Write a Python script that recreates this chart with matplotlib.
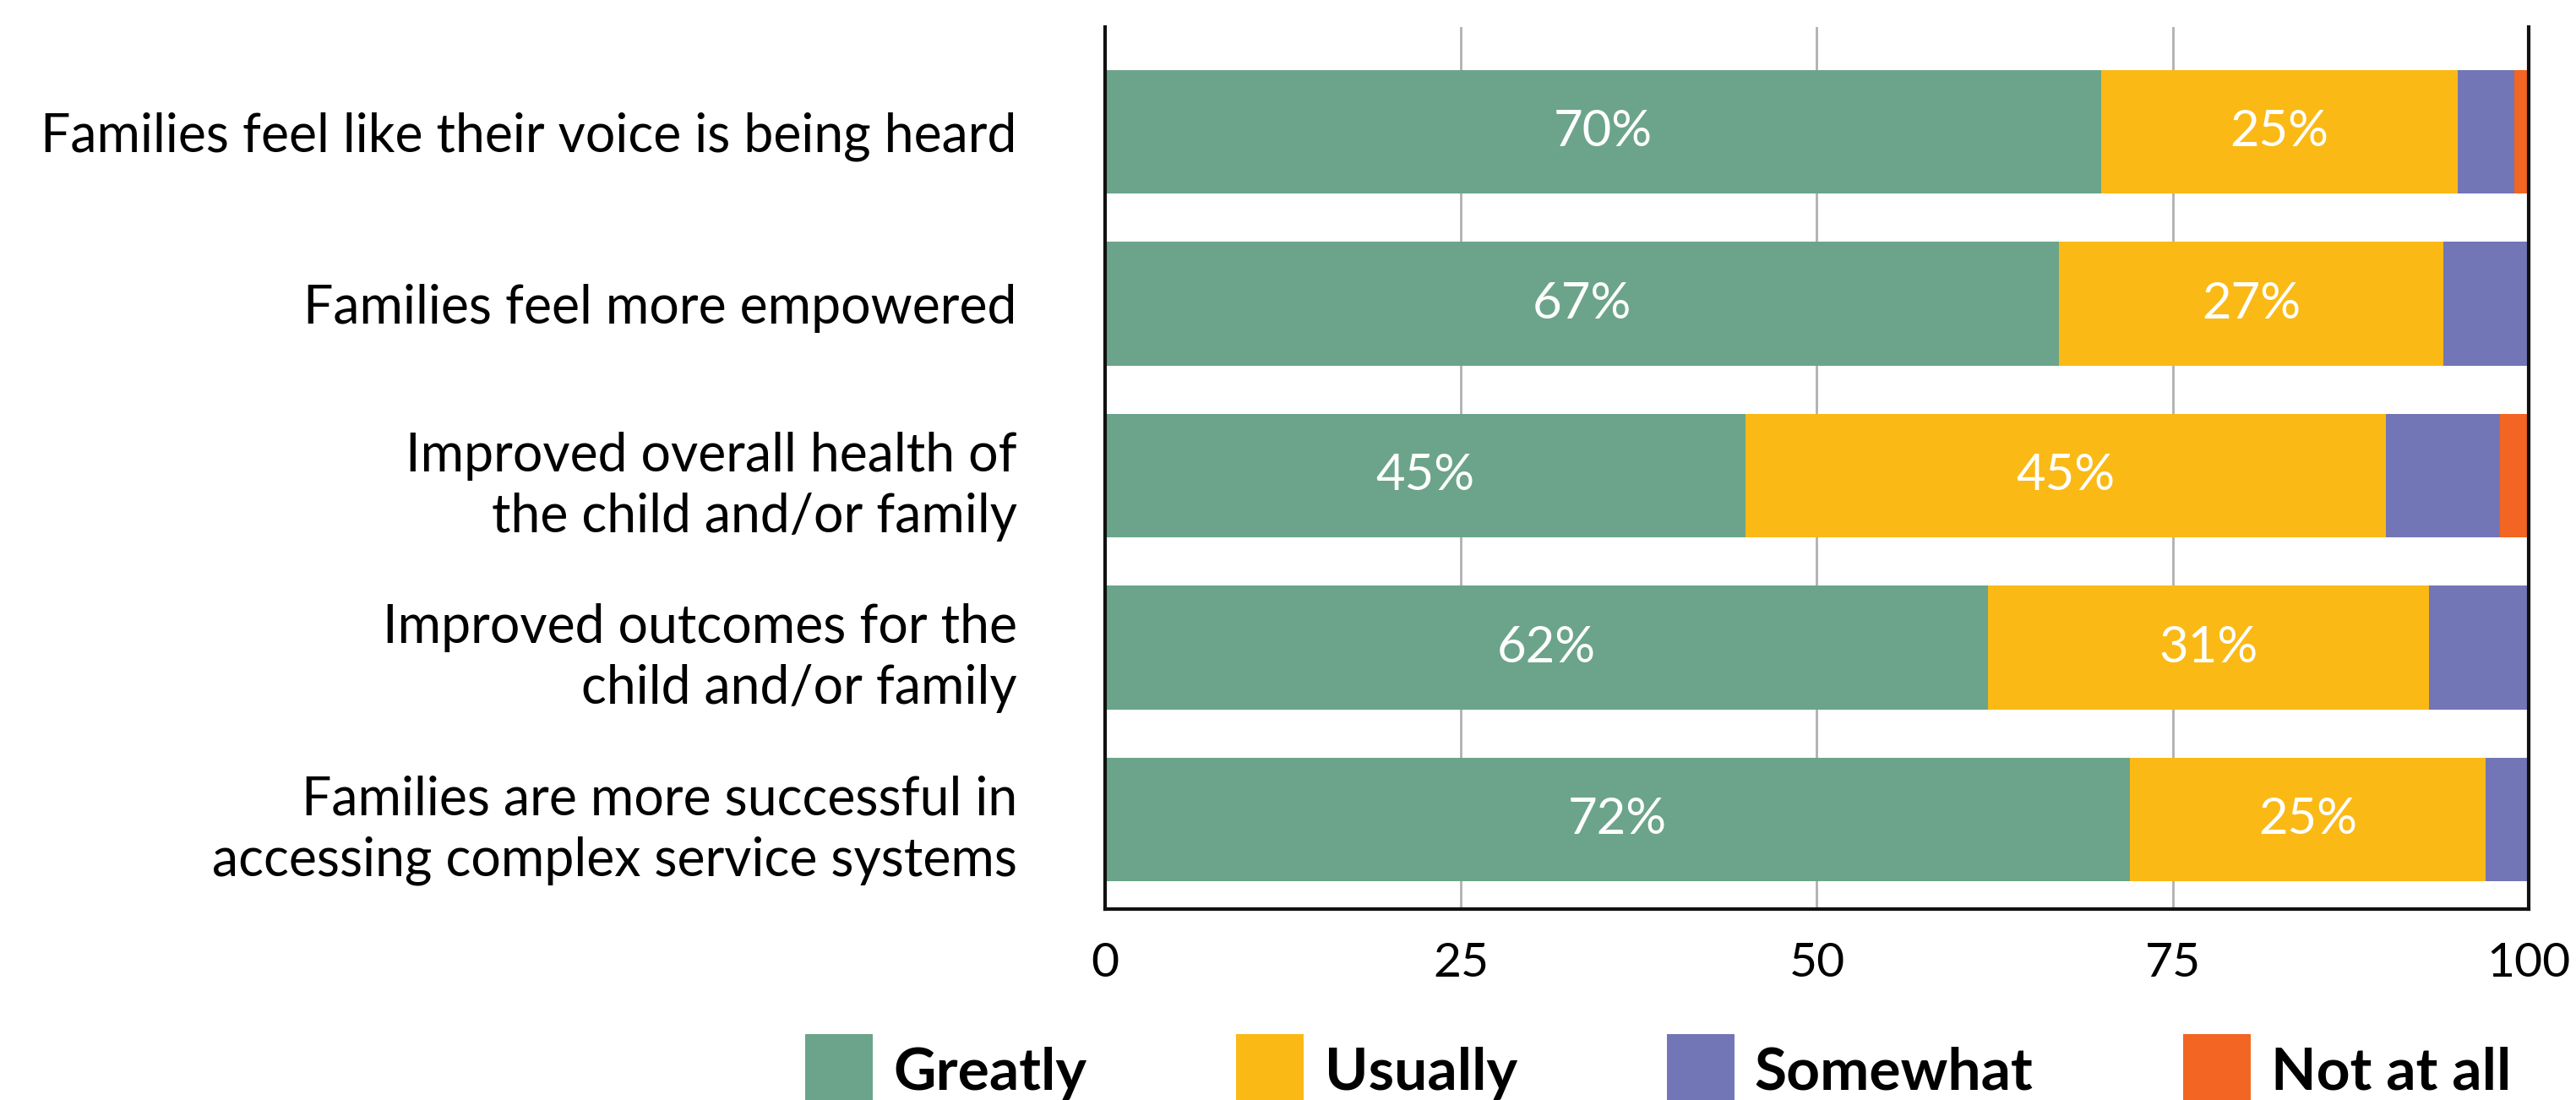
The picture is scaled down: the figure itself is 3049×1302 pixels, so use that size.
import numpy as np
import matplotlib.pyplot as plt
from matplotlib.patches import Patch

plt.rcParams['font.family'] = ['Lato', 'DejaVu Sans']

categories = [
    "Families feel like their voice is being heard",
    "Families feel more empowered",
    "Improved overall health of\nthe child and/or family",
    "Improved outcomes for the\nchild and/or family",
    "Families are more successful in\naccessing complex service systems",
]
greatly = [70, 67, 45, 62, 72]
usually = [25, 27, 45, 31, 25]
somewhat = [4, 6, 8, 7, 3]
not_at_all = [1, 0, 2, 0, 0]

series = ["Greatly", "Usually", "Somewhat", "Not at all"]
colors = ["#6ba48a", "#fab915", "#7276b6", "#f26522"]
labelled = [True, True, False, False]

fig = plt.figure(figsize=(30.49, 13.02), dpi=100)
ax = fig.add_axes([0.429, 0.1736, 0.9816 - 0.429, 0.9754 - 0.1736])

y = np.arange(len(categories))
left = np.zeros(len(categories))
for vals, col, name, lab in zip([greatly, usually, somewhat, not_at_all], colors, series, labelled):
    vals = np.array(vals, dtype=float)
    ax.barh(y, vals, left=left, height=0.72, color=col, label=name, zorder=2)
    if lab:
        for yi, l, v in zip(y, left, vals):
            ax.text(l + v / 2, yi, f"{int(v)}%", ha="center", va="center",
                    color="white", fontsize=43, zorder=3)
    left += vals

ax.set_xlim(0, 100)
ax.set_ylim(4.52, -0.61)
ax.set_xticks([0, 25, 50, 75, 100])
ax.set_yticks(y)
ax.set_yticklabels(categories, fontsize=45, linespacing=1.3)
ax.tick_params(axis="x", labelsize=41, length=0, pad=28)
ax.tick_params(axis="y", length=0, pad=75)
ax.grid(axis="x", color="#b0b0b0", linewidth=2, zorder=0)
ax.spines["top"].set_visible(False)
for s in ["left", "bottom", "right"]:
    ax.spines[s].set_linewidth(3)
    ax.spines[s].set_color("#111111")

handles = [Patch(facecolor=c, label=n) for c, n in zip(colors, series)]
fig.legend(handles=handles, loc="center left", bbox_to_anchor=(0.3126, 0.027), ncol=4,
           frameon=False, prop={"weight": "bold", "size": 50},
           handlelength=1.15, handleheight=1.5, handletextpad=0.35,
           columnspacing=2.55, borderpad=0, borderaxespad=0)

fig.savefig("out.png", dpi=100)
